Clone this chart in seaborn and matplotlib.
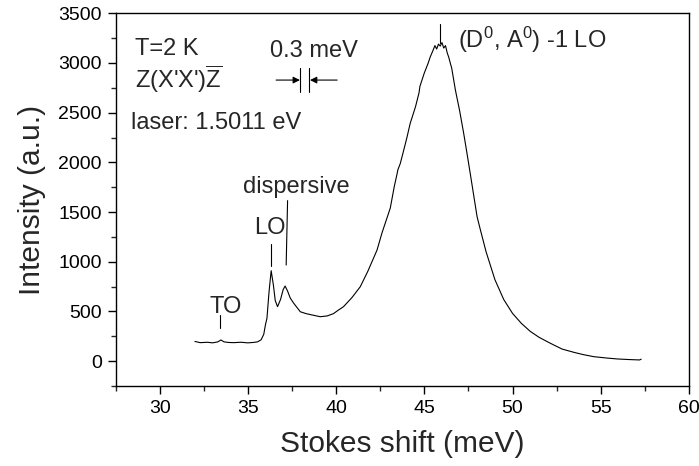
import matplotlib
matplotlib.use("Agg")
import matplotlib.pyplot as plt
import seaborn as sns
import pandas as pd

# Raman spectrum: Stokes shift (meV) vs intensity (a.u.)
shift = [32.0, 32.3, 32.7, 33.0, 33.3, 33.47, 33.65, 33.9, 34.2, 34.6, 35.0,
         35.3, 35.55, 35.75, 35.9, 36.0, 36.08, 36.2, 36.32, 36.45, 36.55,
         36.68, 36.85, 37.0, 37.11, 37.25, 37.4, 37.6, 37.97, 38.3, 38.6,
         39.1, 39.5, 39.85, 40.1, 40.42, 40.9, 41.37, 41.8, 42.32, 42.6,
         43.07, 43.3, 43.45, 43.5, 43.64, 43.9, 44.0, 44.2, 44.5, 44.7,
         44.75, 45.0, 45.2, 45.34, 45.5, 45.6, 45.7, 45.8, 45.9, 46.0,
         46.1, 46.2, 46.3, 46.38, 46.5, 46.55, 46.76, 47.0, 47.23, 47.4,
         47.6, 47.99, 48.18, 48.5, 49.0, 49.5, 50.0, 50.5, 51.0, 51.5,
         52.14, 52.8, 53.47, 54.0, 54.6, 55.3, 55.93, 56.6, 57.2, 57.29]
intensity = [198, 186, 190, 184, 194, 213, 194, 188, 186, 190, 184,
             188, 194, 215, 270, 370, 430, 700, 910, 760, 610,
             548, 620, 720, 756, 705, 635, 582, 497, 478, 466,
             447, 455, 478, 510, 548, 640, 749, 905, 1118, 1290,
             1540, 1760, 1880, 1925, 1990, 2170, 2240, 2393, 2560, 2700,
             2765, 2900, 2990, 3063, 3130, 3175, 3140, 3190, 3170, 3205,
             3150, 3175, 3100, 3060, 2980, 2950, 2728, 2520, 2292, 2110,
             1890, 1453, 1319, 1100, 820, 620, 480, 380, 300, 240,
             180, 122, 89, 66, 45, 32, 22, 16, 12, 20]

x_ticks = [30, 35, 40, 45, 50, 55, 60]
y_ticks = [0, 500, 1000, 1500, 2000, 2500, 3000, 3500]

df = pd.DataFrame({"shift": shift, "intensity": intensity})

sns.set_theme(style="ticks")
plt.rcParams["font.family"] = ["Liberation Sans", "DejaVu Sans"]
plt.rcParams["mathtext.fontset"] = "custom"
plt.rcParams["mathtext.rm"] = "Liberation Sans"
plt.rcParams["mathtext.it"] = "Liberation Sans:italic"
plt.rcParams["mathtext.bf"] = "Liberation Sans:bold"

fig = plt.figure(figsize=(6.99, 4.66), dpi=100)
ax = fig.add_axes([0.1653, 0.1717, 0.8204, 0.7998])

sns.lineplot(data=df, x="shift", y="intensity", ax=ax, color="black",
             linewidth=0.8, sort=False, estimator=None)

ax.set_xlim(27.5, 60)
ax.set_ylim(-250, 3500)
ax.set_xticks(x_ticks)
ax.set_yticks(y_ticks)
ax.xaxis.set_minor_locator(matplotlib.ticker.MultipleLocator(2.5))
ax.yaxis.set_minor_locator(matplotlib.ticker.MultipleLocator(250))
ax.tick_params(which="major", direction="out", length=5.8, width=1.0,
               labelsize=14, pad=4, colors="black")
ax.tick_params(which="minor", direction="out", length=3.3, width=1.0)
ax.tick_params(top=False, right=False, which="both")
for s in ax.spines.values():
    s.set_visible(True)
    s.set_linewidth(1.0)
    s.set_color("black")

ax.set_xlabel("Stokes shift (meV)", fontsize=21.5, labelpad=10)
ax.set_ylabel("Intensity (a.u.)", fontsize=21.5, labelpad=9)

fs = 17
# sample conditions
ax.text(28.6, 3080, "T=2 K", fontsize=fs, ha="left", va="baseline")
ax.text(28.6, 2745, r"Z(X'X')$\overline{\mathrm{Z}}$", fontsize=fs,
        ha="left", va="baseline")
ax.text(28.35, 2332, "laser: 1.5011 eV", fontsize=fs, ha="left",
        va="baseline")

# spectral resolution marker
ax.text(36.26, 3057, "0.3 meV", fontsize=fs, ha="left", va="baseline")
ax.plot([37.97, 37.97], [2708, 2949], color="black", lw=0.8)
ax.plot([38.49, 38.49], [2708, 2949], color="black", lw=0.8)
arrow = dict(arrowstyle="-|>", color="black", lw=0.8, mutation_scale=10,
             shrinkA=0, shrinkB=0)
ax.annotate("", xy=(37.95, 2828), xytext=(36.6, 2828), arrowprops=arrow)
ax.annotate("", xy=(38.52, 2828), xytext=(40.06, 2828), arrowprops=arrow)

# peak labels
ax.text(33.74, 487, "TO", fontsize=fs, ha="center", va="baseline")
ax.plot([33.43, 33.43], [333, 464], color="black", lw=0.8)
ax.text(36.26, 1279, "LO", fontsize=fs, ha="center", va="baseline")
ax.plot([36.32, 36.32], [957, 1179], color="black", lw=0.8)
ax.text(37.74, 1689, "dispersive", fontsize=fs, ha="center", va="baseline")
ax.plot([37.25, 37.17], [1615, 967], color="black", lw=0.8)
ax.text(46.89, 3150, r"(D$^{\mathrm{0}}$, A$^{\mathrm{0}}$) -1 LO",
        fontsize=fs, ha="left", va="baseline")
ax.plot([45.87, 45.87], [3204, 3392], color="black", lw=0.8)

fig.savefig("out.png", dpi=100)
